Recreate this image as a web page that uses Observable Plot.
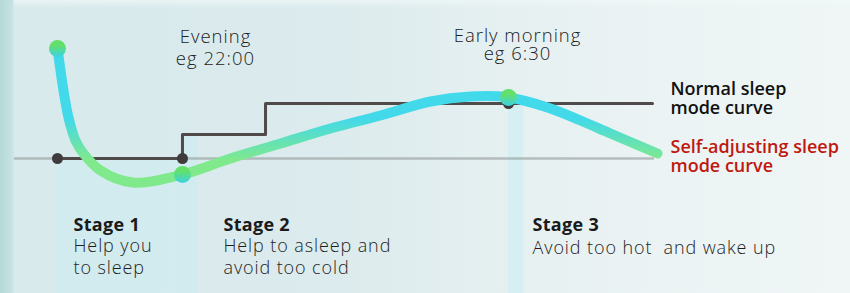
<!DOCTYPE html>
<html><head><meta charset="utf-8">
<script src="https://cdn.jsdelivr.net/npm/d3@7"></script>
<script src="https://cdn.jsdelivr.net/npm/@observablehq/plot@0.6"></script>
<style>
html,body{margin:0;padding:0;}
body{width:850px;height:293px;overflow:hidden;background:
 linear-gradient(to right, #b5d9d8 0px, #c8e3e3 13px, rgba(255,255,255,0) 14px),
 linear-gradient(to bottom, rgba(240,248,248,0.7) 0px, rgba(240,248,248,0) 8px),
 linear-gradient(to right, #d8eaec 0%, #dcebed 40%, #e8f1f2 65%, #f0f6f6 100%);}
svg text{white-space:pre;}
.ls-body text{letter-spacing:0.9px;}
.ls-time text{letter-spacing:1px;}
.ls-title text{letter-spacing:0.3px;}
</style></head><body><div id="chart"></div><script>
// Relative progress through the night (0 = start, 100 = end) and relative temperature
const progress = [0, 1, 1.83, 3, 4.33, 7.17, 12.5, 20.83, 28.83, 37.17, 45.5, 53.83, 62.17, 68.83, 75.17, 81.67, 87.17, 92.17, 100];
const selfAdjusting = [13.75, 8.5, 5.125, 2.25, 0.625, -1.5, -3, -2, 0, 1.875, 3.75, 5.375, 7.125, 7.75, 7.625, 6.375, 4.75, 3.125, 0.625];
const normalX = [0, 20.83, 34.67, 99.17];
const normalY = [0, 3, 6.875, 6.875];
const keyX = [0, 20.83, 75.17];           // start, evening, early morning
const keyCurveY = [13.75, -2, 7.625];
const keyNormalY = [0, 0, 6.875];
const timeLabels = ["Evening\neg 22:00", "Early morning\neg 6:30"];
const stageTitles = ["Stage 1", "Stage 2", "Stage 3"];
const stageTexts = ["Help you\nto sleep", "Help to asleep and\navoid too cold", "Avoid too hot  and wake up"];
const seriesNames = ["Normal sleep\nmode curve", "Self-adjusting sleep\nmode curve"];

const curve = progress.map((x, i) => ({x, y: selfAdjusting[i]}));
const normal = normalX.map((x, i) => ({x, y: normalY[i]}));
const keys = keyX.map((x, i) => ({x, c: keyCurveY[i], n: keyNormalY[i]}));

function label(text, x, dx, dy, opts) {
  return Plot.text([text], {x: () => x, frameAnchor: "top", dx, dy, lineAnchor: "top", ...opts});
}

const timeStyle = {fontSize: 18.5, fill: "#222", fontWeight: 300, className: "ls-time"};
const seriesStyle = {textAnchor: "start", fontSize: 18, fontWeight: 600, lineHeight: 1.1};
const titleStyle = {textAnchor: "start", fontSize: 18, fontWeight: 700, fill: "#1a1a1a", className: "ls-title"};
const bodyStyle = {textAnchor: "start", fontSize: 18, fontWeight: 300, lineHeight: 1.17, fill: "#1e1e1e", className: "ls-body"};

const chart = Plot.plot({
  width: 850, height: 293,
  marginTop: 0, marginRight: 0, marginBottom: 0, marginLeft: 0,
  x: {domain: [0, 100], range: [57, 657], axis: null},
  y: {domain: [-5, 15], range: [198, 38], axis: null},
  style: {fontFamily: "'Open Sans', sans-serif", background: "transparent", overflow: "visible"},
  marks: [
    Plot.rect([{x1: keyX[0], x2: keyX[1]}], {x1: "x1", x2: "x2", y1: 0, y2: -25, fill: "#c4eef4", fillOpacity: 0.3}),
    Plot.rect([{x1: keyX[1], x2: keyX[1] + 2.5}], {x1: "x1", x2: "x2", y1: 3, y2: -25, fill: "#bfeef5", fillOpacity: 0.35}),
    Plot.rect([{x1: keyX[2], x2: keyX[2] + 2.5}], {x1: "x1", x2: "x2", y1: 6.875, y2: -25, fill: "#bfeef5", fillOpacity: 0.4}),
    Plot.ruleY([0], {x1: -7.17, x2: 99.5, stroke: "#8c9192", strokeWidth: 2.5, strokeOpacity: 0.55}),
    Plot.line(normal, {x: "x", y: "y", curve: "step-after", stroke: "#514a4b", strokeWidth: 3}),
    Plot.dot(keys, {x: "x", y: "n", r: 5.5, fill: "#3f3a3b"}),
    Plot.line(curve, {x: "x", y: "y", curve: "catmull-rom", stroke: "url(#curveGrad)", strokeWidth: 10, strokeLinecap: "round", strokeLinejoin: "round"}),
    Plot.dot(keys, {x: "x", y: "c", r: 8.5, fill: "url(#dotGrad)"}),
    label(timeLabels[0], keyX[1], 33, 27, {...timeStyle, lineHeight: 1.2}),
    label(timeLabels[1], keyX[2], 9, 29, {...timeStyle, lineHeight: 0.95}),
    label(seriesNames[0], 100, 13, 80, {...seriesStyle, fill: "#111"}),
    label(seriesNames[1], 100, 13, 138, {...seriesStyle, fill: "#c0180f"}),
    label(stageTitles[0], keyX[0], 16, 218, titleStyle),
    label(stageTitles[1], keyX[1], 41, 218, titleStyle),
    label(stageTitles[2], keyX[2], 24, 218, titleStyle),
    label(stageTexts[0], keyX[0], 16, 237, bodyStyle),
    label(stageTexts[1], keyX[1], 41, 237, bodyStyle),
    label(stageTexts[2], keyX[2], 24, 239, bodyStyle)
  ]
});

d3.select(chart).insert("defs", ":first-child").html(`
  <linearGradient id="curveGrad" gradientUnits="userSpaceOnUse" x1="0" y1="118" x2="0" y2="160">
    <stop offset="0" stop-color="#42d9ea"/>
    <stop offset="1" stop-color="#80e98c"/>
  </linearGradient>
  <linearGradient id="dotGrad" x1="0" y1="0" x2="0" y2="1">
    <stop offset="0.3" stop-color="#63e06a"/>
    <stop offset="1" stop-color="#3bd3e4"/>
  </linearGradient>`);

document.getElementById("chart").appendChild(chart);
</script></body></html>
